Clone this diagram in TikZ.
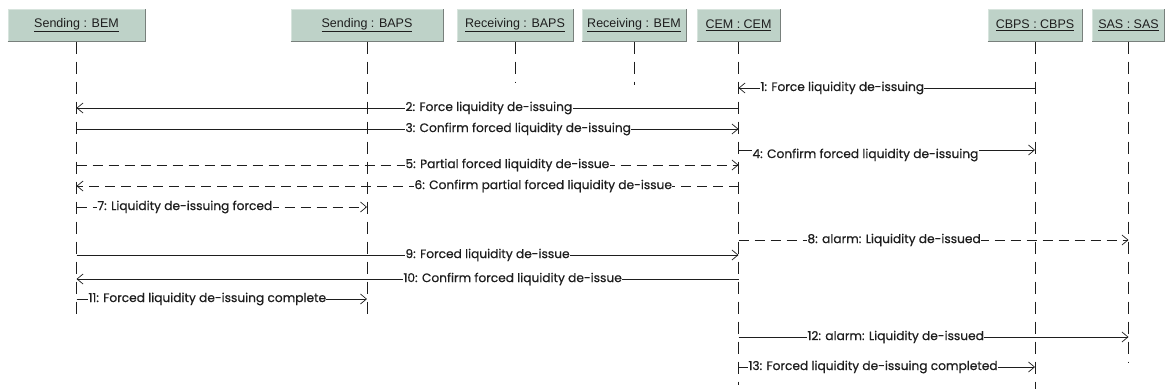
\documentclass[tikz,border=0pt]{standalone}
\usepackage{fontspec}
\setmainfont{Liberation Sans}
\newfontfamily\lblfont[FakeBold=0.6]{Poppins}
\usetikzlibrary{arrows.meta}
\definecolor{hdrfill}{RGB}{190,210,200}
\definecolor{hdrlight}{RGB}{215,228,221}
\definecolor{hdrdark}{RGB}{120,128,124}
\definecolor{ink}{RGB}{30,30,30}
\begin{document}
\begin{tikzpicture}[x=1pt,y=-1pt,
  hdr/.style={draw=hdrlight, line width=1pt, fill=hdrfill, minimum height=32pt, inner sep=0pt, font=\fontsize{12.5}{14}\selectfont, text=ink,
    append after command={(\tikzlastnode.south west) edge[draw=hdrdark, line width=1.2pt] (\tikzlastnode.south east)
      (\tikzlastnode.south east) edge[draw=hdrdark, line width=1.2pt] (\tikzlastnode.north east)}},
  life/.style={draw=ink, line width=0.8pt, dash pattern=on 12pt off 8pt},
  msg/.style={draw=ink, line width=0.7pt, -{Straight Barb[length=6pt,width=10pt,line width=0.7pt]}},
  dmsg/.style={msg, dash pattern=on 10pt off 6pt},
  lbl/.style={fill=white, inner sep=0.3pt, anchor=west, text=ink, font=\lblfont\fontsize{12.2}{14}\selectfont}
]
\useasboundingbox (0,0) rectangle (1165,389);
% headers
\node[hdr, minimum width=137pt] (bem) at (76.5,25) {\underline{Sending : BEM}};
\node[hdr, minimum width=152pt] (baps) at (367,25) {\underline{Sending : BAPS}};
\node[hdr, minimum width=116pt] (rbaps) at (515,25) {\underline{Receiving : BAPS}};
\node[hdr, minimum width=104pt] (rbem) at (634,25) {\underline{Receiving : BEM}};
\node[hdr, minimum width=83pt] (cem) at (738.5,25) {\underline{CEM : CEM}};
\node[hdr, minimum width=94pt] (cbps) at (1035,25) {\underline{CBPS : CBPS}};
\node[hdr, minimum width=72pt] (sas) at (1128.5,25) {\underline{SAS : SAS}};
% lifeline ends
\coordinate (ebem) at (76.5,318);
\coordinate (ebaps) at (367,320);
\coordinate (erbaps) at (515,83);
\coordinate (erbem) at (634,85);
\coordinate (ecem) at (738.5,385);
\coordinate (ecbps) at (1035,389);
\coordinate (esas) at (1128.5,362);
\draw[life] (bem.south) -- (ebem);
\draw[life] (baps.south) -- (ebaps);
\draw[life] (rbaps.south) -- (erbaps);
\draw[life] (rbem.south) -- (erbem);
\draw[life] (cem.south) -- (ecem);
\draw[life] (cbps.south) -- (ecbps);
\draw[life] (sas.south) -- (esas);
% message rows
\coordinate (y1) at (0,88);
\coordinate (y2) at (0,108);
\coordinate (y3) at (0,129);
\coordinate (y4) at (0,150);
\coordinate (y5) at (0,165);
\coordinate (y6) at (0,186);
\coordinate (y7) at (0,207);
\coordinate (y8) at (0,240);
\coordinate (y9) at (0,255);
\coordinate (y10) at (0,279);
\coordinate (y11) at (0,299);
\coordinate (y12) at (0,337);
\coordinate (y13) at (0,367);
% messages
\draw[msg] (cbps |- y1) -- (cem |- y1);
\node[lbl] (l1) at (760,88) {1: Force liquidity de-issuing};
\draw[msg] (cem |- y2) -- (bem |- y2);
\node[lbl] (l2) at (405,108) {2: Force liquidity de-issuing};
\draw[msg] (bem |- y3) -- (cem |- y3);
\node[lbl] (l3) at (405,129) {3: Confirm forced liquidity de-issuing};
\draw[msg] (cem |- y4) -- (cbps |- y4);
\node[lbl] (l4) at (752,155) {4: Confirm forced liquidity de-issuing};
\draw[dmsg] (bem |- y5) -- (cem |- y5);
\node[lbl] (l5) at (405,165) {5: Partial forced liquidity de-issue};
\draw[dmsg] (cem |- y6) -- (bem |- y6);
\node[lbl] (l6) at (414,186) {6: Confirm partial forced liquidity de-issue};
\draw[dmsg] (bem |- y7) -- (baps |- y7);
\node[lbl] (l7) at (97,207) {7: Liquidity de-issuing forced};
\draw[dmsg] (cem |- y8) -- (sas |- y8);
\node[lbl] (l8) at (807,240) {8: alarm: Liquidity de-issued};
\draw[msg] (bem |- y9) -- (cem |- y9);
\node[lbl] (l9) at (405,255) {9: Forced liquidity de-issue};
\draw[msg] (cem |- y10) -- (bem |- y10);
\node[lbl] (l10) at (403,279) {10: Confirm forced liquidity de-issue};
\draw[msg] (bem |- y11) -- (baps |- y11);
\node[lbl] (l11) at (88,299) {11: Forced liquidity de-issuing complete};
\draw[msg] (cem |- y12) -- (sas |- y12);
\node[lbl] (l12) at (807,337) {12: alarm: Liquidity de-issued};
\draw[msg] (cem |- y13) -- (cbps |- y13);
\node[lbl] (l13) at (748,367) {13: Forced liquidity de-issuing completed};
\end{tikzpicture}
\end{document}
